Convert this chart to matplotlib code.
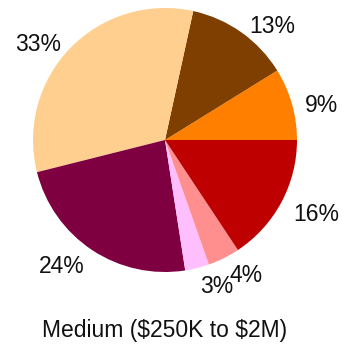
import matplotlib
matplotlib.use("Agg")
import matplotlib.pyplot as plt
import matplotlib.transforms as mtransforms

# Share of organisations by segment (percent)
labels = ["9%", "13%", "33%", "24%", "3%", "4%", "16%"]
values = [9, 13, 33, 24, 3, 4, 16]
colors = ["#FF7F00", "#7F3F00", "#FFCF8F", "#7F0040", "#FFBFFF", "#FF8F8F", "#BF0000"]
title = "Medium ($250K to $2M)"

plt.rcParams["font.family"] = ["Liberation Sans", "DejaVu Sans"]

W, H, DPI = 342, 348, 100
fig = plt.figure(figsize=(W / DPI, H / DPI), dpi=DPI)
R = 132
cx, cy = 165, 140
ax = fig.add_axes([(cx - R) / W, (H - cy - R) / H, 2 * R / W, 2 * R / H])

wedges, texts = ax.pie(values, labels=labels, colors=colors, startangle=0,
                       counterclock=True, labeldistance=1.1,
                       wedgeprops=dict(linewidth=0),
                       textprops=dict(fontsize=16.5, color="#111111"))
ax.set_xlim(-1, 1)
ax.set_ylim(-1, 1)
ax.set_aspect("equal")
ax.axis("off")

for t in texts:
    t.set_transform(mtransforms.offset_copy(t.get_transform(), fig=fig,
                                            x=0, y=-5.5, units="dots"))

fig.text(cx / W, (H - 330) / H, title, ha="center", va="center",
         fontsize=16.5, color="#111111", parse_math=False)

fig.savefig("out.png", dpi=DPI, facecolor="white")
